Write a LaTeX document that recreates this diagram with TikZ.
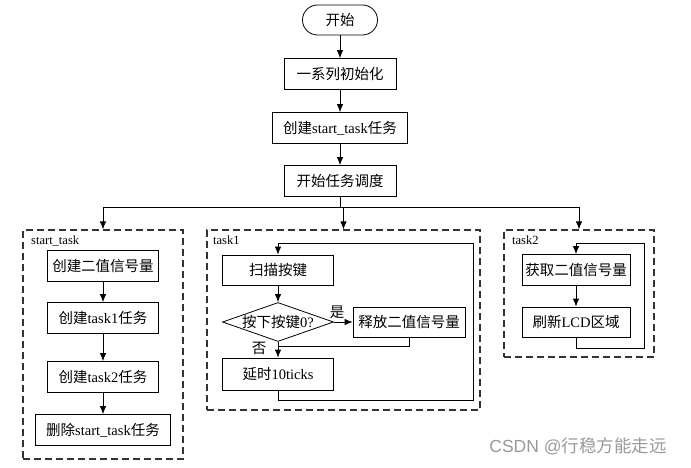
\documentclass[tikz,border=0pt]{standalone}
\usepackage{fontspec}
\setmainfont{Liberation Serif}
\newfontfamily\cjk{Noto Sans CJK SC}
\newfontfamily\wmfont{Liberation Sans}
\usetikzlibrary{shapes.geometric,arrows.meta}
\newcommand{\zh}[1]{{\cjk #1}}
\begin{document}
\begin{tikzpicture}[x=1pt,y=-1pt,
  box/.style={draw, line width=0.8pt, minimum height=31pt, inner sep=0pt, font=\fontsize{14.5}{16}\selectfont},
  arr/.style={-{Latex[length=8pt,width=6.5pt]}, line width=0.8pt},
  ln/.style={line width=0.8pt},
  grp/.style={draw=black!80, line width=1.2pt, dash pattern=on 7pt off 4pt, inner sep=0pt},
  lbl/.style={font=\fontsize{12.5}{14}\selectfont, anchor=base west, inner sep=0pt},
  small/.style={font=\fontsize{14.5}{16}\selectfont, inner sep=0pt}]
\useasboundingbox (0,0) rectangle (691,468);
% main chain
\node[box, rounded corners=15pt, minimum width=75pt, minimum height=30pt] (start) at (340,20) {\zh{开始}};
\node[box, minimum width=112pt] (init) at (340,74) {\zh{一系列初始化}};
\node[box, minimum width=135pt] (create) at (340,128) {\zh{创建}start\_task\zh{任务}};
\node[box, minimum width=112pt] (sched) at (340,181) {\zh{开始任务调度}};
\draw[arr] (start) -- (init);
\draw[arr] (init) -- (create);
\draw[arr] (create) -- (sched);
% groups
\node[grp, minimum width=160pt, minimum height=229pt] (g1) at (103,344.5) {};
\node[grp, minimum width=273pt, minimum height=180pt] (g2) at (343.5,320) {};
\node[grp, minimum width=150pt, minimum height=127pt] (g3) at (579,293.5) {};
\node[lbl] (l1) at (31,244) {start\_task};
\node[lbl] (l2) at (213,244) {task1};
\node[lbl] (l3) at (512,244) {task2};
% branch
\coordinate (br) at (340,207);
\coordinate (bl) at (103,207);
\coordinate (brr) at (579,207);
\draw[ln] (sched) -- (br);
\draw[ln] (bl) -- (brr);
\draw[arr] (bl) -- (g1.north);
\draw[arr] (g2.north |- br) -- (g2.north);
\draw[arr] (brr) -- (g3.north);
% start_task
\node[box, minimum width=111pt] (s1) at (103,266) {\zh{创建二值信号量}};
\node[box, minimum width=111pt] (s2) at (103,318) {\zh{创建}task1\zh{任务}};
\node[box, minimum width=111pt] (s3) at (103,377) {\zh{创建}task2\zh{任务}};
\node[box, minimum width=135pt] (s4) at (103,430) {\zh{删除}start\_task\zh{任务}};
\draw[arr] (s1) -- (s2);
\draw[arr] (s2) -- (s3);
\draw[arr] (s3) -- (s4);
% task1
\node[box, minimum width=111pt, minimum height=30pt] (t1) at (278,270) {\zh{扫描按键}};
\node[draw, diamond, line width=0.8pt, minimum width=111pt, minimum height=39pt, inner sep=0pt] (d) at (278,322) {};
\node[small] (dt) at (d.center) {\zh{按下按键}0?};
\node[box, minimum width=112pt, minimum height=30pt] (t2) at (409,322) {\zh{释放二值信号量}};
\node[box, minimum width=111pt, minimum height=32pt] (t3) at (278,374) {\zh{延时}10ticks};
\node[small] (yes) at (337,312) {\zh{是}};
\node[small] (no) at (259,348) {\zh{否}};
\draw[arr] (t1) -- (d);
\draw[arr] (d.east) -- (t2.west);
\draw[arr] (d.south) -- (t3.north);
\coordinate (j1) at (409,346);
\coordinate (j2) at (278,346);
\draw[ln] (t2.south) -- (j1) -- (j2);
\coordinate (a1) at (278,400);
\coordinate (a2) at (473,400);
\coordinate (a3) at (473,243);
\coordinate (a4) at (278,243);
\draw[arr] (t3.south) -- (a1) -- (a2) -- (a3) -- (a4) -- (t1.north);
% task2
\node[box, minimum width=108pt] (u1) at (576,270) {\zh{获取二值信号量}};
\node[box, minimum width=108pt, minimum height=30pt] (u2) at (576,322) {\zh{刷新}LCD\zh{区域}};
\draw[arr] (u1) -- (u2);
\coordinate (b1) at (576,348);
\coordinate (b2) at (644,348);
\coordinate (b3) at (644,243);
\coordinate (b4) at (576,243);
\draw[arr] (u2.south) -- (b1) -- (b2) -- (b3) -- (b4) -- (u1.north);
% watermark
\node[font=\fontsize{17.5}{19}\selectfont, text=black!40, inner sep=0pt] (wm) at (578,446) {{\wmfont CSDN @}\zh{行稳方能走远}};
\end{tikzpicture}
\end{document}
